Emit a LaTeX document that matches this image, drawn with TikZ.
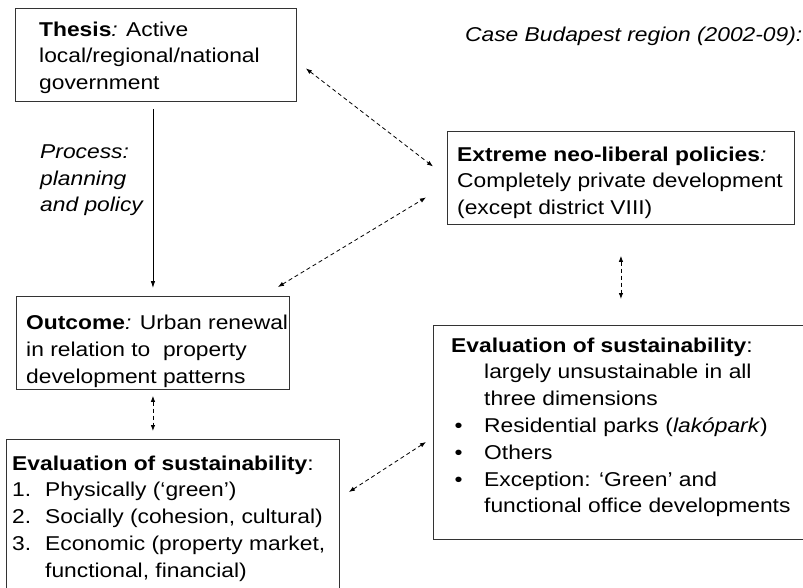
\documentclass[tikz,border=0pt]{standalone}
\usepackage{fontspec}
\setmainfont{Liberation Sans}[FakeStretch=1.14]
\usetikzlibrary{arrows.meta}

\begin{document}
\begin{tikzpicture}[x=1pt, y=-1pt,
    box/.style={draw=black!80, line width=0.9pt, anchor=north west, inner sep=0pt},
    txt/.style={anchor=north west, inner sep=0pt, align=left, font=\fontsize{20}{26.8}\selectfont},
    flow/.style={-{Latex[length=7pt,width=4.5pt]}, line width=0.8pt},
    link/.style={{Latex[length=6pt,width=4.5pt]}-{Latex[length=6pt,width=4.5pt]}, line width=0.8pt, dash pattern=on 4pt off 3pt}]
    \useasboundingbox (0,0) rectangle (803,588);
    \fill[white] (0,0) rectangle (803,588);

    % Left column: thesis -> outcome -> evaluation
    \node[box, minimum width=281pt, minimum height=93pt] (thesis) at (15,8) {};
    \node[txt] (thesistxt) at (39,21.4) {\textbf{Thesis}\textit{:} Active\\local/regional/national\\government};
    \node[txt, font=\fontsize{20}{26.5}\selectfont\itshape] (process) at (40,144.7) {Process:\\planning\\and policy};

    \node[box, minimum width=273pt, minimum height=93pt] (outcome) at (16,296) {};
    \node[txt] (outcometxt) at (26,315.2) {\textbf{Outcome}\textit{:} Urban renewal\\in relation to \ property\\development patterns};

    \node[box, minimum width=333pt, minimum height=170pt] (evalL) at (6,439) {};
    \node[txt] (evalLtxt) at (12,455.4) {\textbf{Evaluation of sustainability}:\\
        \makebox[33pt][l]{1.}Physically (‘green’)\\
        \makebox[33pt][l]{2.}Socially (cohesion, cultural)\\
        \makebox[33pt][l]{3.}Economic (property market,\\
        \hspace*{33pt}functional, financial)};

    % Right column: the Budapest case
    \node[txt, font=\fontsize{20}{24}\selectfont\itshape] (case) at (465,26.4) {Case Budapest region (2002-09):};

    \node[box, minimum width=347pt, minimum height=93pt] (extreme) at (447,131) {};
    \node[txt] (extremetxt) at (457,146.4) {\textbf{Extreme neo-liberal policies}\textit{:}\\Completely private development\\(except district VIII)};

    \node[box, minimum width=382pt, minimum height=214pt] (evalR) at (433,325) {};
    \node[txt] (evalRtxt) at (451,337.4) {\textbf{Evaluation of sustainability}:\\
        \hspace*{33pt}largely unsustainable in all\\
        \hspace*{33pt}three dimensions\\
        \makebox[33pt][l]{\,•}Residential parks (\textit{lakópark})\\
        \makebox[33pt][l]{\,•}Others\\
        \makebox[33pt][l]{\,•}Exception: ‘Green’ and\\
        \hspace*{33pt}functional office developments};

    % connectors
    \draw[flow, shorten <=7pt, shorten >=8pt] (outcome.north |- thesis.south) -- (outcome.north);
    \draw[link] ([xshift=9pt,yshift=-13.5pt]thesis.east) -- ([xshift=-14pt,yshift=11.5pt]extreme.west);
    \draw[link] ([xshift=-12pt,yshift=9pt]outcome.north east) -- ([xshift=-21pt,yshift=-19.5pt]extreme.west);
    \draw[link, shorten <=31pt, shorten >=26pt] (extreme.south) -- (extreme.south |- evalR.north);
    \draw[link, shorten <=6pt, shorten >=8pt] (outcome.south) -- (outcome.south |- evalL.north);
    \draw[link] ([xshift=9pt,yshift=-53pt]evalL.north east) -- ([xshift=-7pt,yshift=-117pt]evalR.north west);
\end{tikzpicture}
\end{document}
